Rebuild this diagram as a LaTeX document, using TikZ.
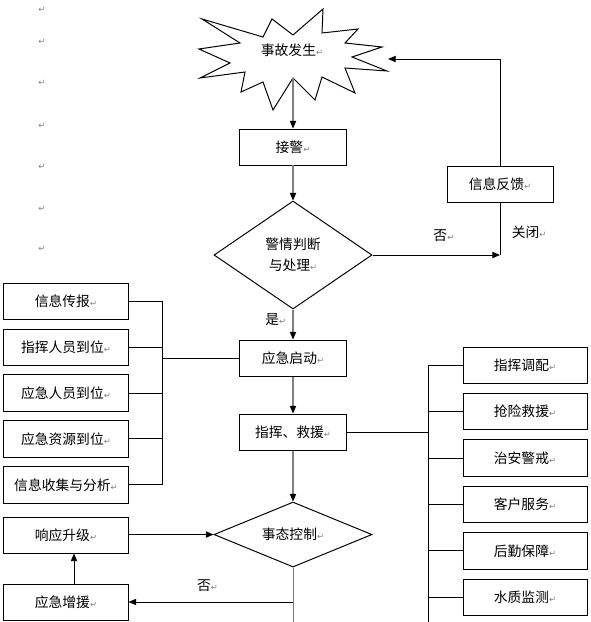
\documentclass[tikz,border=0pt]{standalone}
\usepackage{fontspec}
\setmainfont{Noto Sans CJK SC}
\newfontfamily\markfont{DejaVu Sans}
\usetikzlibrary{shapes.geometric, arrows.meta, positioning}
\newcommand{\retmark}{{\markfont\fontsize{6pt}{6pt}\selectfont\textcolor{gray}{↵}}}

\tikzset{
    box/.style = {draw, line width=0.7pt, rectangle, minimum width=2.65cm, minimum height=0.9cm, inner sep=0pt},
    sidebox/.style = {box, minimum width=3.1cm},
    decision/.style = {draw, line width=0.7pt, diamond, aspect=2, inner sep=0pt, minimum width=3.95cm, align=center},
    link/.style = {line width=0.7pt, draw=black},
    flow/.style = {line width=0.8pt, draw=gray, -{Triangle[length=5.5pt, width=4.5pt, color=black]}},
    arrow/.style = {link, -{Triangle[length=5.5pt, width=4.5pt]}},
    tag/.style = {inner sep=1pt}
}

\begin{document}
\begin{tikzpicture}[x=0.025cm, y=-0.025cm, font=\fontsize{9.8pt}{12pt}\selectfont]
    \useasboundingbox (0,0) rectangle (590,622);
    \clip (0,0) rectangle (590,622);

    % main column
    \node (burst) at (292,50) {事故发生\retmark};
    \draw [line width=0.7pt] (202,19) -- (263,37) -- (272,19) -- (293,35) -- (323,9) -- (322,33)
        -- (358,29) -- (345,43) -- (382,47) -- (352,57) -- (387,71) -- (345,68) -- (355,93)
        -- (322,77) -- (315,100) -- (293,78) -- (273,110) -- (263,82) -- (241,92) -- (245,72)
        -- (200,78) -- (230,63) -- (199,49) -- (240,43) -- cycle;
    \coordinate (burst-out) at (293,78);
    \coordinate (burst-in) at (388,59);

    \node (jiejing) [box] at (293,147) {接警\retmark};
    \node (judge) [decision, minimum height=2.7cm, font=\fontsize{9.8pt}{15pt}\selectfont,
        below=0.875cm of jiejing] {警情判断\\与处理\retmark};
    \node (qidong) [box, below=0.75cm of judge] {应急启动\retmark};
    \node (jiuyuan) [box, below=0.925cm of qidong] {指挥、救援\retmark};
    \node (control) [decision, minimum height=1.625cm, below=1.275cm of jiuyuan] {事态控制\retmark};
    \coordinate (ctrl-end) at (293,640);

    \node (fankui) [box] at (500,184) {信息反馈\retmark};
    \coordinate (corner) at (judge.east -| fankui.south);

    % left column
    \node (chuanbao) [sidebox] at (66,301) {信息传报\retmark};
    \node (zhihuiry) [sidebox, below=0.225cm of chuanbao] {指挥人员到位\retmark};
    \node (yingjiry) [sidebox, below=0.225cm of zhihuiry] {应急人员到位\retmark};
    \node (ziyuan) [sidebox, below=0.225cm of yingjiry] {应急资源到位\retmark};
    \node (shouji) [sidebox, below=0.225cm of ziyuan] {信息收集与分析\retmark};
    \coordinate (lbus) at (162,356);

    \node (shengji) [sidebox] at (66,535) {响应升级\retmark};
    \node (zengyuan) [sidebox, below=0.75cm of shengji] {应急增援\retmark};

    % right column
    \node (diaopei) [sidebox] at (525,365) {指挥调配\retmark};
    \node (qiangxian) [sidebox, below=0.2375cm of diaopei] {抢险救援\retmark};
    \node (zhian) [sidebox, below=0.2375cm of qiangxian] {治安警戒\retmark};
    \node (kehu) [sidebox, below=0.2375cm of zhian] {客户服务\retmark};
    \node (houqin) [sidebox, below=0.2375cm of kehu] {后勤保障\retmark};
    \node (shuizhi) [sidebox, below=0.2375cm of houqin] {水质监测\retmark};
    \node (more) [sidebox, below=0.2375cm of shuizhi] {};
    \coordinate (rbus) at (428,429);
    \coordinate (rbus-end) at (428,640);

    % stray paragraph marks
    \foreach \y in {10,42,83,126,167,209,249}
        \node (mark\y) at (42,\y) {\retmark};

    % connectors
    \draw [flow] (burst-out) -- (jiejing);
    \draw [flow] (jiejing) -- (judge);
    \draw [flow] (judge) -- node [tag, left=3.5pt, pos=0.33] {是\retmark} (qidong);
    \draw [flow] (qidong) -- (jiuyuan);
    \draw [flow] (jiuyuan) -- (control);
    \draw [link, draw=gray] (control.south) -- (ctrl-end);

    \draw [arrow] (judge.east) -- node [tag, above=0.28cm, pos=0.56] {否\retmark} (corner);
    \draw [link] (fankui.south) -- node [tag, right=7pt, pos=0.57] {关闭\retmark} (corner);
    \draw [arrow] (fankui.north) |- (burst-in);

    \foreach \n in {chuanbao, zhihuiry, yingjiry, ziyuan, shouji}
        \draw [link] (\n.east) -- (\n.east -| lbus);
    \draw [link] (chuanbao.east -| lbus) -- (shouji.east -| lbus);
    \draw [link] (qidong.west -| lbus) -- (qidong.west);

    \foreach \n in {diaopei, qiangxian, zhian, kehu, houqin, shuizhi}
        \draw [link] (\n.west) -- (\n.west -| rbus);
    \draw [link] (diaopei.west -| rbus) -- (rbus-end);
    \draw [link] (jiuyuan.east) -- (jiuyuan.east -| rbus);

    \draw [arrow] (shengji.east |- control.west) -- (control.west);
    \draw [arrow] ([xshift=0.2cm]zengyuan.north) -- ([xshift=0.2cm]shengji.south);
    \draw [arrow] (control.south |- zengyuan.east) -- node [tag, above=0.22cm, pos=0.52] {否\retmark} (zengyuan.east);
\end{tikzpicture}
\end{document}
